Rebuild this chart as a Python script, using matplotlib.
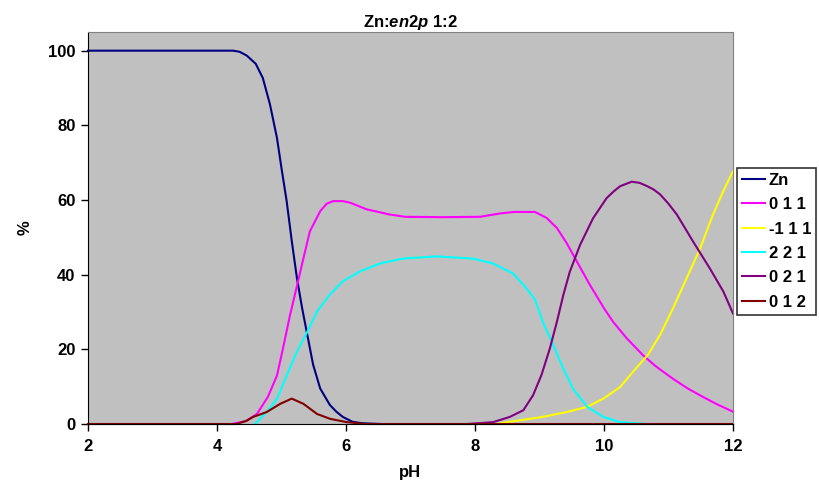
import matplotlib
matplotlib.use('Agg')
import matplotlib.pyplot as plt

plt.rcParams['font.family'] = ['Liberation Sans', 'DejaVu Sans']
plt.rcParams['font.weight'] = 'bold'
plt.rcParams['mathtext.fontset'] = 'custom'
plt.rcParams['mathtext.it'] = 'Liberation Sans:italic:bold'
plt.rcParams['mathtext.rm'] = 'Liberation Sans:bold'

# species distribution (pH, %)
zn_ph = [2.0, 3.0, 4.0, 4.25, 4.35, 4.46, 4.6, 4.71, 4.82, 4.93, 5.0, 5.08, 5.16, 5.24,
         5.32, 5.40, 5.49, 5.60, 5.75, 5.85, 5.95, 6.1, 6.25, 6.53]
zn_val = [100, 100, 100, 100, 99.7, 98.7, 96.5, 92.7, 85.7, 76.6, 68.5, 59.7, 48.9, 39.0,
          31.0, 23.9, 15.9, 9.5, 5.1, 3.3, 1.9, 0.6, 0.2, 0.0]

m011_ph = [4.23, 4.45, 4.62, 4.79, 4.93, 5.02, 5.13, 5.24, 5.34, 5.44, 5.6, 5.7, 5.8, 5.95,
           6.06, 6.32, 6.68, 6.92, 7.5, 8.08, 8.39, 8.6, 8.93, 9.11, 9.27, 9.42, 9.58,
           9.78, 10.0, 10.14, 10.35, 10.6, 10.8, 11.07, 11.3, 11.53, 11.75, 12.0]
m011_val = [0.0, 0.8, 2.7, 7.3, 13.0, 20.0, 29.0, 37.0, 44.4, 51.6, 57.0, 59.0, 59.7, 59.7,
            59.3, 57.5, 56.1, 55.5, 55.4, 55.5, 56.4, 56.8, 56.8, 55.2, 52.5, 48.5, 43.5,
            37.3, 31.0, 27.4, 23.0, 18.5, 15.5, 12.1, 9.5, 7.3, 5.3, 3.3]

mm111_ph = [8.33, 8.5, 8.7, 9.05, 9.42, 9.74, 9.99, 10.25, 10.45, 10.68, 10.87, 11.07,
            11.28, 11.49, 11.69, 11.85, 12.0]
mm111_val = [0.0, 0.5, 1.0, 1.9, 3.2, 4.6, 6.8, 9.9, 14.0, 18.5, 23.9, 31.0,
             39.0, 47.0, 56.1, 62.4, 67.7]

m221_ph = [4.59, 4.67, 4.8, 4.93, 5.08, 5.24, 5.40, 5.55, 5.75, 5.95, 6.22, 6.53, 6.88,
           7.41, 7.97, 8.28, 8.59, 8.8, 8.93, 9.05, 9.21, 9.37, 9.52, 9.74, 9.99, 10.25,
           10.67]
m221_val = [0.0, 1.4, 3.8, 6.8, 13.0, 19.4, 24.7, 30.1, 34.7, 38.2, 40.9, 43.0, 44.3,
            44.9, 44.3, 43.0, 40.3, 36.3, 33.3, 27.4, 21.2, 14.8, 9.4, 4.6, 1.9, 0.5, 0.0]

m021_ph = [7.88, 8.28, 8.54, 8.75, 8.9, 9.03, 9.16, 9.27, 9.37, 9.47, 9.63, 9.83, 10.04,
           10.15, 10.25, 10.43, 10.55, 10.67, 10.77, 10.87, 11.0, 11.13, 11.38, 11.64,
           11.85, 12.0]
m021_val = [0.0, 0.5, 1.9, 3.7, 7.7, 13.1, 20.2, 27.4, 34.6, 40.8, 48.0, 55.1, 60.5,
            62.3, 63.7, 64.9, 64.6, 63.7, 62.8, 61.5, 59.0, 56.1, 48.9, 41.7, 35.5, 29.6]

m012_ph = [2.0, 4.3, 4.45, 4.56, 4.77, 4.98, 5.16, 5.34, 5.55, 5.75, 6.01, 6.3, 12.0]
m012_val = [0.0, 0.0, 0.8, 1.9, 3.2, 5.4, 6.8, 5.4, 2.7, 1.4, 0.5, 0.0, 0.0]

series = [
    ('Zn', zn_ph, zn_val, '#000080'),
    ('0 1 1', m011_ph, m011_val, '#FF00FF'),
    ('-1 1 1', mm111_ph, mm111_val, '#FFFF00'),
    ('2 2 1', m221_ph, m221_val, '#00FFFF'),
    ('0 2 1', m021_ph, m021_val, '#800080'),
    ('0 1 2', m012_ph, m012_val, '#800000'),
]

fig = plt.figure(figsize=(8.19, 4.96), dpi=100, facecolor='white')
ax = fig.add_axes([88/819, 1-424/496, (733-88)/819, (424-32)/496])
ax.set_facecolor('#C0C0C0')

for name, xs, ys, col in series:
    ax.plot(xs, ys, color=col, lw=1.5, label=name, clip_on=False)

ax.set_xlim(2, 12)
ax.set_ylim(0, 105)
ax.set_xticks([2, 4, 6, 8, 10, 12])
ax.set_yticks([0, 20, 40, 60, 80, 100])
ax.tick_params(direction='out', length=5, width=1, labelsize=12, colors='black')
ax.tick_params(axis='x', pad=6)
ax.tick_params(axis='y', pad=4)
for lab in ax.get_xticklabels() + ax.get_yticklabels():
    lab.set_fontweight('bold')

ax.spines['left'].set_color('black')
ax.spines['bottom'].set_color('black')
ax.spines['top'].set_color('#808080')
ax.spines['right'].set_color('#808080')

ax.set_xlabel('pH', fontsize=12, fontweight='bold', labelpad=8)
ax.set_ylabel('%', fontsize=12, fontweight='bold', labelpad=11)
ax.set_title(r'Zn:$\it{en2p}$ 1:2', fontsize=12, fontweight='bold', pad=3)

leg = fig.legend(loc='upper left', bbox_to_anchor=(737/819, 1-168/496),
                 frameon=True, fancybox=False, fontsize=12, handlelength=1.4,
                 handletextpad=0.2, labelspacing=0.56, borderpad=0.3,
                 borderaxespad=0)
leg.get_frame().set_edgecolor('black')
leg.get_frame().set_linewidth(1.2)
for t in leg.get_texts():
    t.set_fontweight('bold')

fig.savefig('out.png', dpi=100)
